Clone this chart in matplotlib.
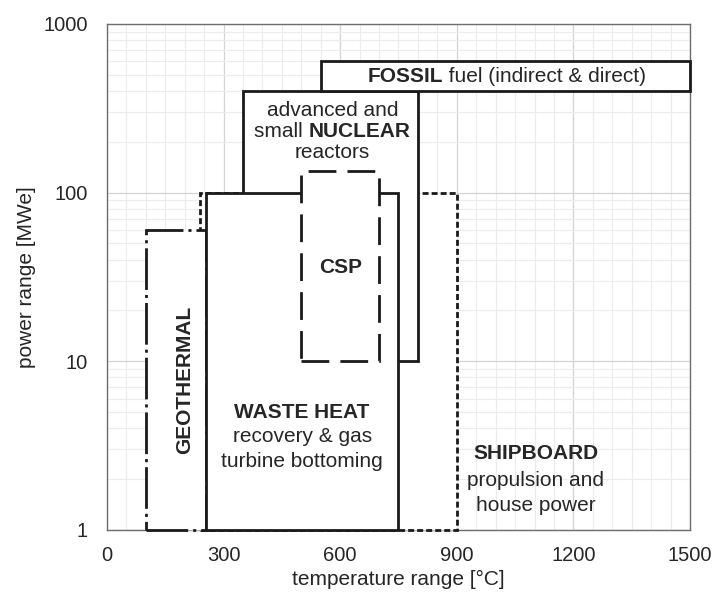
import matplotlib
matplotlib.use("Agg")
from matplotlib import pyplot as plt
from matplotlib.patches import Rectangle
from matplotlib.ticker import MultipleLocator, NullFormatter
from matplotlib.transforms import ScaledTranslation

plt.rcParams['font.family'] = ['Liberation Sans', 'DejaVu Sans']
plt.rcParams['lines.scale_dashes'] = False

# boxes: temperature range [C] and power range [MWe]
names = ['SHIPBOARD', 'GEOTHERMAL', 'NUCLEAR', 'WASTE HEAT', 'CSP', 'FOSSIL']
t_lo = [240, 100, 350, 255, 500, 550]
t_hi = [900, 255, 800, 750, 700, 1500]
p_lo = [1, 1, 10, 1, 10, 400]
p_hi = [100, 60, 400, 100, 135, 600]

x_ticks = [0, 300, 600, 900, 1200, 1500]
y_ticks = [1, 10, 100, 1000]
y_tick_labels = ['1', '10', '100', '1000']

styles = {
    'SHIPBOARD': (0, (4.3, 2.2)),
    'GEOTHERMAL': (0, (30, 3.6, 2.2, 3.6)),
    'NUCLEAR': '-',
    'WASTE HEAT': '-',
    'CSP': (0, (20, 8)),
    'FOSSIL': '-',
}

ink = '#1a1a1a'
txt = '#262626'
fs = 15

fig = plt.figure(figsize=(7.17, 5.95), dpi=100)
ax = fig.add_axes([0.1492, 0.1097, 0.8131, 0.85])
ax.set_yscale('log')
ax.set_xlim(0, 1500)
ax.set_ylim(1, 1000)

ax.set_xticks(x_ticks)
ax.xaxis.set_minor_locator(MultipleLocator(50))
ax.set_yticks(y_ticks)
ax.set_yticklabels(y_tick_labels)
ax.yaxis.set_minor_formatter(NullFormatter())
ax.grid(which='major', color='#d4d4d4', lw=0.9)
ax.grid(which='minor', color='#ececec', lw=0.8)
ax.set_axisbelow(True)
ax.tick_params(which='both', length=0, labelsize=14.5, labelcolor=txt)
ax.tick_params(axis='x', pad=12)
ax.tick_params(axis='y', pad=14)
for s in ax.spines.values():
    s.set_color('#6e6e6e')
    s.set_linewidth(1.0)

ax.set_xlabel('temperature range [°C]', fontsize=15, color=txt, labelpad=3)
ax.set_ylabel('power range [MWe]', fontsize=15, color=txt, labelpad=5)

# later boxes sit on top and hide parts of the earlier outlines
for i, n in enumerate(names):
    r = Rectangle((t_lo[i], p_lo[i]), t_hi[i] - t_lo[i], p_hi[i] - p_lo[i],
                  facecolor='white', edgecolor=ink, lw=2.0,
                  linestyle=styles[n], zorder=3 + i, clip_on=False)
    ax.add_patch(r)


def mixed_text(x, y, parts, size=fs):
    rend = fig.canvas.get_renderer()
    texts = [ax.text(x, y, s, fontweight=w, fontsize=size, color=txt,
                     ha='left', va='center', zorder=20) for s, w in parts]
    widths = [t.get_window_extent(rend).width for t in texts]
    off = -sum(widths) / 2
    for t, w in zip(texts, widths):
        t.set_transform(ax.transData + ScaledTranslation(off / fig.dpi, 0, fig.dpi_scale_trans))
        off += w


kw = dict(ha='center', va='center', fontsize=fs, color=txt, zorder=20)
mixed_text(1028, 486, [('FOSSIL', 'bold'), (' fuel (indirect & direct)', 'normal')])
ax.text(580, 308, 'advanced and', **kw)
mixed_text(580, 230, [('small ', 'normal'), ('NUCLEAR', 'bold')])
ax.text(580, 172, 'reactors', **kw)
ax.text(600, 36, 'CSP', fontweight='bold', **kw)
ax.text(200, 7.7, 'GEOTHERMAL', fontweight='bold', rotation=90, **kw)
ax.text(502, 4.94, 'WASTE HEAT', fontweight='bold', **kw)
ax.text(502, 3.56, 'recovery & gas', **kw)
ax.text(502, 2.53, 'turbine bottoming', **kw)
ax.text(1103, 2.84, 'SHIPBOARD', fontweight='bold', **kw)
ax.text(1103, 1.97, 'propulsion and', **kw)
ax.text(1103, 1.40, 'house power', **kw)

fig.savefig('out.png', dpi=100)
